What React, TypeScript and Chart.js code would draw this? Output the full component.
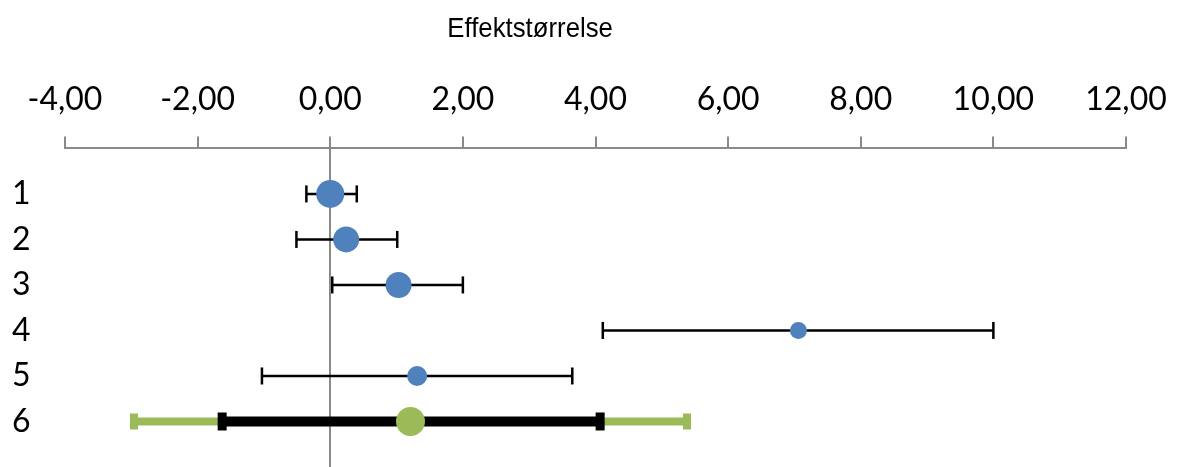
import React, { useEffect, useRef } from "react";
import { Chart, registerables } from "chart.js";

Chart.register(...registerables);

// ---- data ----
const rowLabels = ["1", "2", "3", "4", "5", "6"];
const effectSize = [0.0, 0.24, 1.03, 7.06, 1.31, 1.21];
const ciLow = [-0.36, -0.51, 0.03, 4.11, -1.03, -1.63];
const ciHigh = [0.4, 1.01, 2.0, 10.0, 3.65, 4.07];
// prediction interval (only for the summary row)
const piLow = [null, null, null, null, null, -2.96];
const piHigh = [null, null, null, null, null, 5.38];
const pointSizes = [14, 13, 13, 8.5, 10, 14.5];
const xTicks = [-4, -2, 0, 2, 4, 6, 8, 10, 12];
const titleText = "Effektstørrelse";

const BLUE = "#4F81BD";
const GREEN = "#9BBB59";
const AXIS_GRAY = "#8A8A8A";

const errorBarsPlugin = {
  id: "errorBars",
  beforeDatasetsDraw(chart: any) {
    const ctx = chart.ctx;
    const xs = chart.scales.x;
    const ys = chart.scales.y;
    ctx.save();
    const drawBar = (lo: number, hi: number, row: number, color: string, lw: number, capW: number, capH: number) => {
      const y = ys.getPixelForValue(row);
      const x1 = xs.getPixelForValue(lo);
      const x2 = xs.getPixelForValue(hi);
      ctx.strokeStyle = color;
      ctx.lineWidth = lw;
      ctx.beginPath();
      ctx.moveTo(x1, y);
      ctx.lineTo(x2, y);
      ctx.stroke();
      ctx.fillStyle = color;
      ctx.fillRect(x1 - capW / 2, y - capH / 2, capW, capH);
      ctx.fillRect(x2 - capW / 2, y - capH / 2, capW, capH);
    };
    for (let i = 0; i < rowLabels.length; i++) {
      const row = i + 1;
      const lo = piLow[i];
      const hi = piHigh[i];
      if (lo !== null && hi !== null) {
        drawBar(lo as number, hi as number, row, GREEN, 8, 8, 16);
        drawBar(ciLow[i], ciHigh[i], row, "#000000", 10, 9, 18);
      } else {
        drawBar(ciLow[i], ciHigh[i], row, "#000000", 2.5, 2.5, 17);
      }
    }
    ctx.restore();
  },
};

const titlePlugin = {
  id: "customTitle",
  afterDraw(chart: any) {
    const ctx = chart.ctx;
    ctx.save();
    ctx.fillStyle = "#000000";
    ctx.font = '28px "Liberation Sans", Arial, sans-serif';
    ctx.textAlign = "center";
    ctx.textBaseline = "alphabetic";
    const cx = chart.width * 0.45;
    ctx.translate(cx, 37);
    ctx.scale(0.92, 1);
    ctx.fillText(titleText, 0, 0);
    ctx.restore();
  },
};

export default function App() {
  const canvasRef = useRef<HTMLCanvasElement | null>(null);

  useEffect(() => {
    document.body.style.margin = "0";
    const canvas = canvasRef.current;
    if (!canvas) return;
    const chart = new Chart(canvas, {
      type: "scatter",
      data: {
        datasets: [
          {
            data: effectSize.map((x, i) => ({ x, y: i + 1 })),
            pointRadius: pointSizes,
            pointHoverRadius: pointSizes,
            pointBackgroundColor: effectSize.map((_, i) => (i === 5 ? GREEN : BLUE)),
            pointBorderWidth: 0,
            showLine: false,
          },
        ],
      },
      options: {
        responsive: false,
        animation: false,
        devicePixelRatio: 1,
        layout: { autoPadding: false, padding: { top: 62, left: 12, right: 52, bottom: 0 } },
        plugins: { legend: { display: false }, tooltip: { enabled: false }, title: { display: false } },
        scales: {
          x: {
            type: "linear",
            position: "top",
            min: -4,
            max: 12,
            afterBuildTicks: (scale: any) => {
              scale.ticks = xTicks.map((v) => ({ value: v }));
            },
            afterFit: (scale: any) => {
              scale.paddingLeft = 0;
              scale.paddingRight = 0;
            },
            ticks: {
              font: { family: "Lato, 'Open Sans', sans-serif", size: 32 },
              color: "#000000",
              padding: 18,
              maxRotation: 0,
              autoSkip: false,
              callback: (v: any) => Number(v).toFixed(2).replace(".", ","),
            },
            grid: {
              display: true,
              drawOnChartArea: true,
              color: (c: any) => (c.tick && c.tick.value === 0 ? AXIS_GRAY : "rgba(0,0,0,0)"),
              tickColor: AXIS_GRAY,
              tickLength: 12,
              lineWidth: 2,
            },
            border: { display: true, color: AXIS_GRAY, width: 2 },
          },
          y: {
            type: "linear",
            reverse: true,
            min: 0,
            max: 7,
            afterBuildTicks: (scale: any) => {
              scale.ticks = rowLabels.map((_, i) => ({ value: i + 1 }));
            },
            afterFit: (scale: any) => {
              scale.width = 53;
              scale.paddingTop = 0;
              scale.paddingBottom = 0;
            },
            ticks: {
              font: { family: "Lato, 'Open Sans', sans-serif", size: 32 },
              color: "#000000",
              crossAlign: "far",
              padding: 0,
              autoSkip: false,
              callback: (v: any) => rowLabels[Number(v) - 1] ?? "",
            },
            grid: { display: false },
            border: { display: false },
          },
        },
      },
      plugins: [errorBarsPlugin, titlePlugin],
    } as any);
    return () => chart.destroy();
  }, []);

  return <canvas ref={canvasRef} width={1178} height={467} style={{ display: "block" }} />;
}
